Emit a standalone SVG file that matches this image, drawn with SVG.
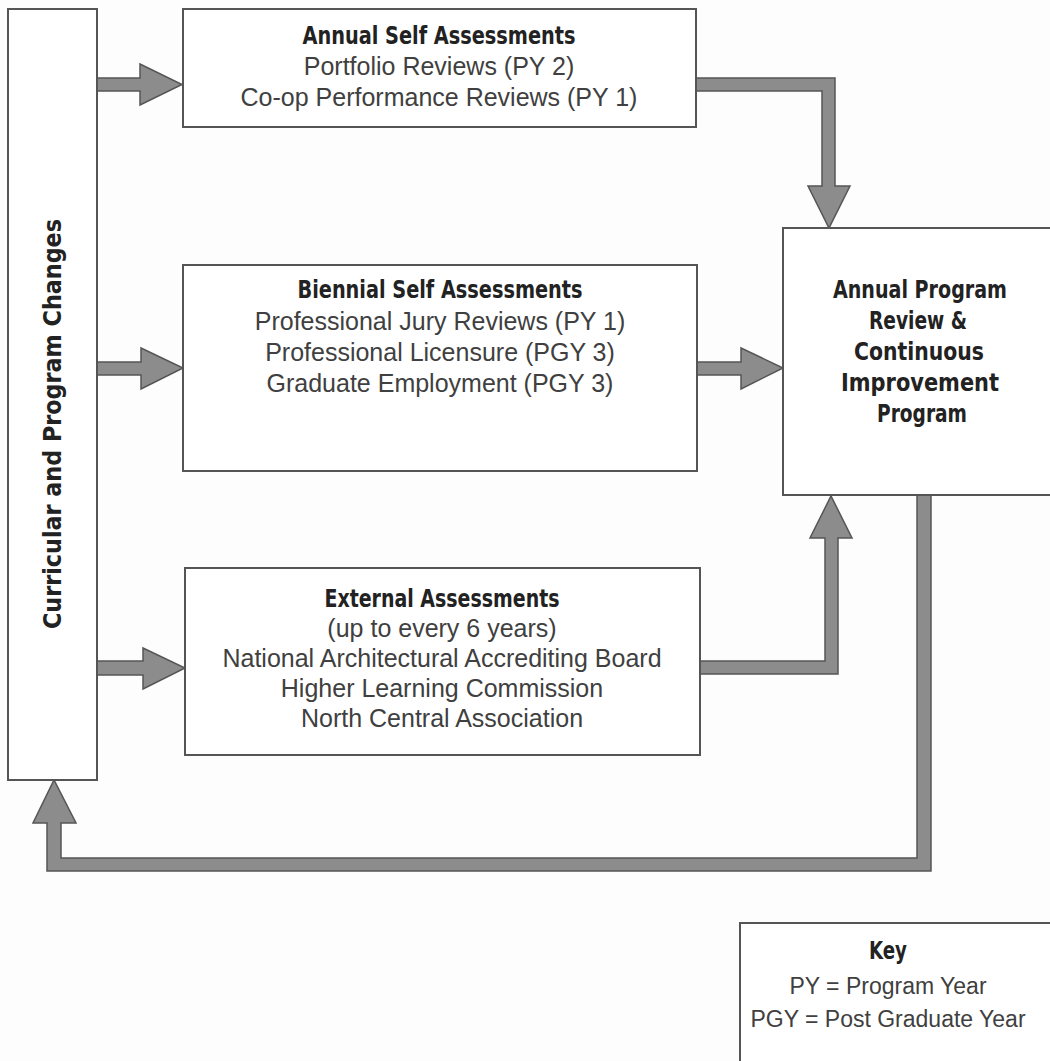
<svg xmlns="http://www.w3.org/2000/svg" width="1050" height="1061" viewBox="0 0 1050 1061">
<style>
.box{fill:#fff;stroke:#555;stroke-width:2}
.arr{fill:#8c8c8c;stroke:#555;stroke-width:1.5;stroke-linejoin:miter}
.t{font-family:"Liberation Sans Narrow","DejaVu Sans Condensed","Liberation Sans",sans-serif;font-weight:bold;font-size:24px;fill:#222;text-anchor:middle}
.r{font-family:"Liberation Sans",Arial,sans-serif;font-size:25px;fill:#404040;text-anchor:middle}
.k{font-family:"Liberation Sans",Arial,sans-serif;font-size:23px;fill:#404040;text-anchor:middle}
</style>
<rect width="1050" height="1061" fill="#fdfdfd"/>
<g id="connectors">
<polygon class="arr" points="97,78 140,78 140,64 182,84.5 140,105 140,91 97,91"/>
<polygon class="arr" points="97,362 141,362 141,348 183,368 141,389 141,375 97,375"/>
<polygon class="arr" points="97,661 143,661 143,648 185,668 143,689 143,675 97,675"/>
<polygon class="arr" points="697,362 741,362 741,348 783,368 741,389 741,375 697,375"/>
<polygon class="arr" points="696,78 835,78 835,186 850,186 829,228 808,186 822,186 822,91 696,91"/>
<polygon class="arr" points="700,661 825,661 825,538 810,538 831,496 852,538 838,538 838,674 700,674"/>
<polygon class="arr" points="917,495 931,495 931,871 47,871 47,823 33,823 54,780 76,823 61,823 61,858 917,858"/>
</g>
<g id="curricular">
<rect class="box" x="8" y="9" width="89" height="771"/>
<text class="t" transform="translate(61,424) rotate(-90)" textLength="410" lengthAdjust="spacingAndGlyphs">Curricular and Program Changes</text>
</g>
<g id="annual">
<rect class="box" x="183" y="9" width="513" height="118"/>
<text class="t" x="439" y="44" textLength="273" lengthAdjust="spacingAndGlyphs">Annual Self Assessments</text>
<text class="r" x="439" y="75">Portfolio Reviews (PY 2)</text>
<text class="r" x="439" y="106">Co-op Performance Reviews (PY 1)</text>
</g>
<g id="biennial">
<rect class="box" x="183" y="265" width="514" height="206"/>
<text class="t" x="440" y="298" textLength="285" lengthAdjust="spacingAndGlyphs">Biennial Self Assessments</text>
<text class="r" x="440" y="330">Professional Jury Reviews (PY 1)</text>
<text class="r" x="440" y="361">Professional Licensure (PGY 3)</text>
<text class="r" x="440" y="392">Graduate Employment (PGY 3)</text>
</g>
<g id="external">
<rect class="box" x="185" y="568" width="515" height="187"/>
<text class="t" x="442" y="607" textLength="235" lengthAdjust="spacingAndGlyphs">External Assessments</text>
<text class="r" x="442" y="637">(up to every 6 years)</text>
<text class="r" x="442" y="667">National Architectural Accrediting Board</text>
<text class="r" x="442" y="697">Higher Learning Commission</text>
<text class="r" x="442" y="727">North Central Association</text>
</g>
<g id="review">
<rect class="box" x="783" y="228" width="280" height="267"/>
<text class="t" x="920" y="298" textLength="174" lengthAdjust="spacingAndGlyphs">Annual Program</text>
<text class="t" x="918" y="329" textLength="98" lengthAdjust="spacingAndGlyphs">Review &amp;</text>
<text class="t" x="919" y="360" textLength="130" lengthAdjust="spacingAndGlyphs">Continuous</text>
<text class="t" x="920" y="391" textLength="158" lengthAdjust="spacingAndGlyphs">Improvement</text>
<text class="t" x="922" y="422" textLength="90" lengthAdjust="spacingAndGlyphs">Program</text>
</g>
<g id="key">
<rect class="box" x="740" y="923" width="340" height="160"/>
<text class="t" x="888" y="959" textLength="38" lengthAdjust="spacingAndGlyphs">Key</text>
<text class="k" x="888" y="994">PY = Program Year</text>
<text class="k" x="888" y="1027">PGY = Post Graduate Year</text>
</g>
</svg>
